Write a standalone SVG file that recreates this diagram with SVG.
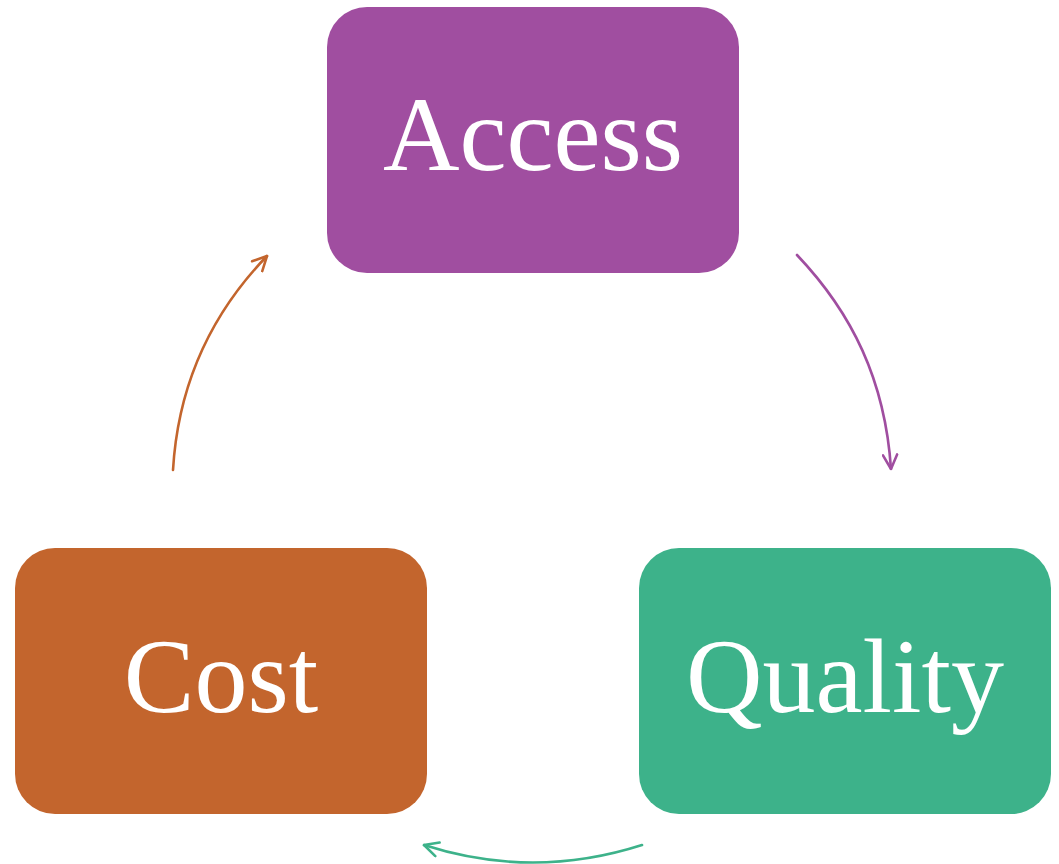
<svg xmlns="http://www.w3.org/2000/svg" width="1059" height="864" viewBox="0 0 1059 864">
<style>
.box{stroke:none}
.lbl{font-family:"Liberation Serif","DejaVu Serif",serif;font-size:106px;fill:#fff;text-anchor:middle}
.conn{fill:none;stroke-width:2.6;stroke-linecap:round}
</style>
<defs>
<marker id="aO" viewBox="0 0 12 12" refX="11" refY="6" markerWidth="17" markerHeight="17" markerUnits="userSpaceOnUse" orient="auto"><path d="M1,1 L11,6 L1,11" fill="none" stroke="#C3652D" stroke-width="1.8" stroke-linecap="round" stroke-linejoin="round"/></marker>
<marker id="aP" viewBox="0 0 12 12" refX="11" refY="6" markerWidth="17" markerHeight="17" markerUnits="userSpaceOnUse" orient="auto"><path d="M1,1 L11,6 L1,11" fill="none" stroke="#A04EA0" stroke-width="1.8" stroke-linecap="round" stroke-linejoin="round"/></marker>
<marker id="aG" viewBox="0 0 12 12" refX="11" refY="6" markerWidth="17" markerHeight="17" markerUnits="userSpaceOnUse" orient="auto"><path d="M1,1 L11,6 L1,11" fill="none" stroke="#3DB28A" stroke-width="1.8" stroke-linecap="round" stroke-linejoin="round"/></marker>
</defs>
<rect width="1059" height="864" fill="#fff"/>
<g id="connectors">
<path class="conn" stroke="#C3652D" d="M173,470 C178,385 210,315 267,256" marker-end="url(#aO)"/>
<path class="conn" stroke="#A04EA0" d="M797,255 C852,313 885,380 891,469" marker-end="url(#aP)"/>
<path class="conn" stroke="#3DB28A" d="M642,845 Q533,880 424,845" marker-end="url(#aG)"/>
</g>
<g id="access">
<rect class="box" x="327" y="7" width="412" height="266" rx="40" fill="#A04EA0"/>
<text class="lbl" x="533" y="170">Access</text>
</g>
<g id="cost">
<rect class="box" x="15" y="548" width="412" height="266" rx="40" fill="#C3652D"/>
<text class="lbl" x="221" y="712">Cost</text>
</g>
<g id="quality">
<rect class="box" x="639" y="548" width="412" height="266" rx="40" fill="#3DB28A"/>
<text class="lbl" x="845" y="712">Quality</text>
</g>
</svg>
